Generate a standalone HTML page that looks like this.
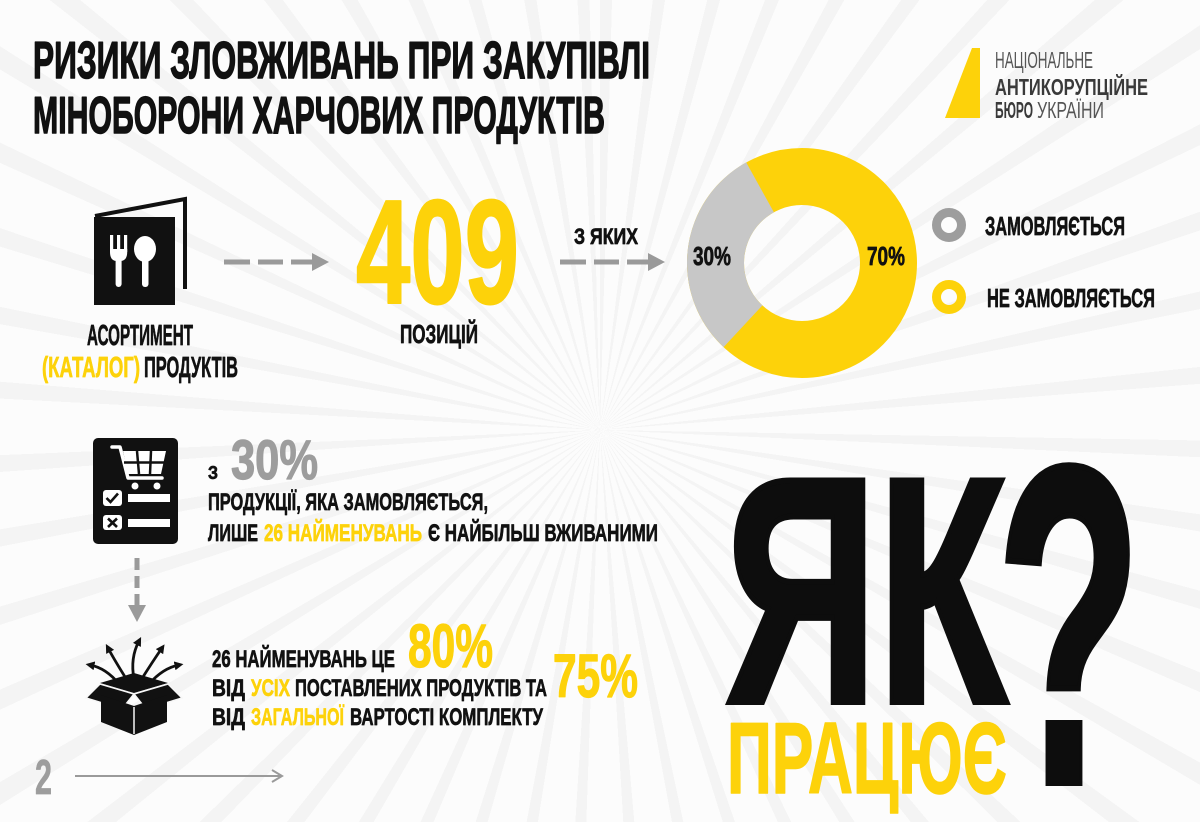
<!DOCTYPE html>
<html>
<head>
<meta charset="utf-8">
<style>
  html,body{margin:0;padding:0;overflow:hidden;}
  body{width:1200px;height:822px;overflow:hidden;position:relative;
    background:#fbfbfb;
    background-image:repeating-conic-gradient(from 0deg at 600px 430px,#f4f4f4 0deg 1.6deg,#fcfcfc 1.6deg 7deg);}
  svg{position:absolute;left:0;top:0;overflow:hidden;}
  text{font-family:"Liberation Sans","DejaVu Sans",sans-serif;font-weight:700;}
  .b{fill:#111;stroke:#111;stroke-width:0.7;stroke-linejoin:round;}
  .y{fill:#fdd20a;stroke:#fdd20a;stroke-width:0.7;stroke-linejoin:round;}
  .g{fill:#9d9d9d;stroke:#9d9d9d;stroke-width:0.7;stroke-linejoin:round;}
</style>
</head>
<body>
<svg width="1200" height="822" viewBox="0 0 1200 822">
  <defs>
    <marker id="ah" viewBox="0 0 10 10" refX="5" refY="5" markerWidth="3.2" markerHeight="3.2" orient="auto">
      <path d="M0 0 L10 5 L0 10 Z" fill="#111"/>
    </marker>
    <clipPath id="frame"><rect x="0" y="0" width="1200" height="822"/></clipPath>
  </defs>
<g clip-path="url(#frame)">
  <!-- Title -->
  <text class="b" x="33" y="78" font-size="52" textLength="617" lengthAdjust="spacingAndGlyphs" style="stroke-width:1.5">РИЗИКИ ЗЛОВЖИВАНЬ ПРИ ЗАКУПІВЛІ</text>
  <text class="b" x="33" y="133" font-size="52" textLength="572" lengthAdjust="spacingAndGlyphs" style="stroke-width:1.5">МІНОБОРОНИ ХАРЧОВИХ ПРОДУКТІВ</text>

  <!-- Logo -->
  <polygon points="972,48 980,48 980,118 945,118" fill="#fdd20a"/>
  <text x="995" y="68" font-size="23" textLength="98" lengthAdjust="spacingAndGlyphs" style="font-weight:400;fill:#555">НАЦІОНАЛЬНЕ</text>
  <text x="995" y="95" font-size="23" textLength="153" lengthAdjust="spacingAndGlyphs" style="fill:#3a3a3a">АНТИКОРУПЦІЙНЕ</text>
  <text x="995" y="118" font-size="23" textLength="38" lengthAdjust="spacingAndGlyphs" style="fill:#3a3a3a">БЮРО</text>
  <text x="1037" y="118" font-size="23" textLength="67" lengthAdjust="spacingAndGlyphs" style="font-weight:400;fill:#555">УКРАЇНИ</text>

  <!-- Menu icon -->
  <path d="M95 216 L185 199 L185 289" fill="none" stroke="#111" stroke-width="4"/>
  <rect x="94" y="217" width="81" height="88" fill="#111"/>
  <rect x="110" y="235" width="3.2" height="17" fill="#fff"/>
  <rect x="117" y="235" width="3.2" height="17" fill="#fff"/>
  <rect x="124" y="235" width="3.2" height="17" fill="#fff"/>
  <path d="M110 249 H127.2 V252 Q127.2 261 120 261 H117 Q110 261 110 252 Z" fill="#fff"/>
  <rect x="115.6" y="256" width="6" height="31" rx="3" fill="#fff"/>
  <ellipse cx="145" cy="249" rx="11" ry="13" fill="#fff"/>
  <rect x="142" y="254" width="6.5" height="33" rx="3" fill="#fff"/>

  <text class="b" x="87" y="345" font-size="29" textLength="106" lengthAdjust="spacingAndGlyphs">АСОРТИМЕНТ</text>
  <text class="y" x="42" y="377" font-size="29" textLength="98" lengthAdjust="spacingAndGlyphs">(КАТАЛОГ)</text>
  <text class="b" x="144" y="377" font-size="29" textLength="94" lengthAdjust="spacingAndGlyphs">ПРОДУКТІВ</text>

  <!-- Arrow 1 -->
  <g fill="#9a9a9a">
    <rect x="224" y="259.5" width="26" height="5"/>
    <rect x="258" y="259.5" width="25" height="5"/>
    <rect x="291" y="259.5" width="22" height="5"/>
    <polygon points="312,253 329,262 312,271"/>
  </g>

  <!-- 409 -->
  <text class="y" x="356" y="303" font-size="148" textLength="163" lengthAdjust="spacingAndGlyphs" style="stroke-width:2">409</text>
  <text class="b" x="400" y="343" font-size="26" textLength="78" lengthAdjust="spacingAndGlyphs">ПОЗИЦІЙ</text>

  <!-- Arrow 2 -->
  <text class="b" x="574" y="244" font-size="22" textLength="64" lengthAdjust="spacingAndGlyphs">З ЯКИХ</text>
  <g fill="#9a9a9a">
    <rect x="560" y="259.5" width="26" height="5"/>
    <rect x="594" y="259.5" width="25" height="5"/>
    <rect x="627" y="259.5" width="22" height="5"/>
    <polygon points="648,253 665,262 648,271"/>
  </g>

  <!-- Donut -->
  <g transform="translate(0,4)">
  <circle cx="802" cy="259" r="86.5" fill="none" stroke="#fdd20a" stroke-width="57"/>
  <path d="M746.2 158.4 A115 115 0 0 0 723.6 343.1 L762.4 301.4 A58 58 0 0 1 773.9 208.3 Z" fill="#c7c7c7"/>
  </g>
  <text class="b" x="693" y="265" font-size="26" textLength="38" lengthAdjust="spacingAndGlyphs">30%</text>
  <text class="b" x="867" y="265" font-size="26" textLength="38" lengthAdjust="spacingAndGlyphs">70%</text>

  <!-- Legend -->
  <circle cx="949" cy="225" r="12.5" fill="none" stroke="#9d9d9d" stroke-width="9"/>
  <circle cx="949" cy="297" r="12.5" fill="none" stroke="#fdd20a" stroke-width="9"/>
  <text class="b" x="985" y="235" font-size="26" textLength="140" lengthAdjust="spacingAndGlyphs">ЗАМОВЛЯЄТЬСЯ</text>
  <text class="b" x="987" y="307" font-size="26" textLength="168" lengthAdjust="spacingAndGlyphs">НЕ ЗАМОВЛЯЄТЬСЯ</text>

  <!-- Cart icon -->
  <rect x="93" y="438" width="85" height="106" rx="5" fill="#111"/>
  <path d="M112 447 H120 L128 478 H162" fill="none" stroke="#fff" stroke-width="3.5" stroke-linecap="round" stroke-linejoin="round"/>
  <polygon points="123,451 166,451 161,474 128,474" fill="#fff"/>
  <g stroke="#111" stroke-width="2.5">
    <line x1="137" y1="451" x2="139" y2="474"/>
    <line x1="151" y1="451" x2="150" y2="474"/>
    <line x1="124" y1="462.5" x2="165" y2="462.5"/>
  </g>
  <circle cx="135" cy="486" r="3.5" fill="#fff"/>
  <circle cx="157" cy="486" r="3.5" fill="#fff"/>
  <rect x="103" y="490" width="19" height="16" rx="3" fill="#fff"/>
  <rect x="128" y="494" width="42" height="8" fill="#fff"/>
  <rect x="103" y="515" width="19" height="15" rx="3" fill="#fff"/>
  <rect x="128" y="519" width="42" height="8" fill="#fff"/>
  <path d="M106.5 498 L110.5 502 L118 493.5" fill="none" stroke="#111" stroke-width="2.6"/>
  <path d="M108 518.5 L117 527 M117 518.5 L108 527" fill="none" stroke="#111" stroke-width="2.6"/>

  <!-- Down arrow -->
  <g fill="#9a9a9a">
    <rect x="134.5" y="558" width="5" height="12"/>
    <rect x="134.5" y="576" width="5" height="12"/>
    <rect x="134.5" y="594" width="5" height="12"/>
    <polygon points="128,605 146,605 137,622"/>
  </g>

  <!-- Box icon -->
  <g fill="none" stroke="#111" stroke-width="2.8" stroke-linecap="round" marker-end="url(#ah)">
    <path d="M119 684 Q106 668 90 665"/>
    <path d="M127 680 Q115 661 108 648"/>
    <path d="M134 679 Q130 658 139 641"/>
    <path d="M141 680 Q153 661 162 648"/>
    <path d="M149 684 Q163 668 179 665"/>
  </g>
  <polygon points="100,683 134,673 168,683 134,693" fill="#111"/>
  <polygon points="100,684 134,694 122,709 86,698" fill="#111" stroke="#f7f7f7" stroke-width="1.5"/>
  <polygon points="134,694 168,684 182,698 146,709" fill="#111" stroke="#f7f7f7" stroke-width="1.5"/>
  <polygon points="101,695 134,706 134,735 101,722" fill="#111"/>
  <polygon points="134,706 167,695 167,722 134,735" fill="#111"/>
  <line x1="134" y1="707" x2="134" y2="734" stroke="#f7f7f7" stroke-width="1.5"/>

  <!-- Text block 1 -->
  <text class="b" x="208" y="479" font-size="18.6" textLength="10" lengthAdjust="spacingAndGlyphs">З</text>
  <text class="g" x="231" y="479" font-size="56" textLength="87" lengthAdjust="spacingAndGlyphs" style="stroke-width:1.2">30%</text>
  <text class="b" x="208" y="510" font-size="24.5" textLength="280" lengthAdjust="spacingAndGlyphs">ПРОДУКЦІЇ, ЯКА ЗАМОВЛЯЄТЬСЯ,</text>
  <text class="b" x="208" y="541" font-size="24.5" textLength="50" lengthAdjust="spacingAndGlyphs">ЛИШЕ</text>
  <text class="y" x="264" y="541" font-size="24.5" textLength="158" lengthAdjust="spacingAndGlyphs">26 НАЙМЕНУВАНЬ</text>
  <text class="b" x="428" y="541" font-size="24.5" textLength="230" lengthAdjust="spacingAndGlyphs">Є НАЙБІЛЬШ ВЖИВАНИМИ</text>

  <!-- Text block 2 -->
  <text class="b" x="212" y="667" font-size="24.5" textLength="183" lengthAdjust="spacingAndGlyphs">26 НАЙМЕНУВАНЬ ЦЕ</text>
  <text class="y" x="408" y="667" font-size="61" textLength="85" lengthAdjust="spacingAndGlyphs" style="stroke-width:1.2">80%</text>
  <text class="b" x="212" y="696" font-size="24.5" textLength="33" lengthAdjust="spacingAndGlyphs">ВІД</text>
  <text class="y" x="251" y="696" font-size="24.5" textLength="39" lengthAdjust="spacingAndGlyphs">УСІХ</text>
  <text class="b" x="295" y="696" font-size="24.5" textLength="252" lengthAdjust="spacingAndGlyphs">ПОСТАВЛЕНИХ ПРОДУКТІВ ТА</text>
  <text class="y" x="553" y="697" font-size="61" textLength="85" lengthAdjust="spacingAndGlyphs" style="stroke-width:1.2">75%</text>
  <text class="b" x="212" y="725" font-size="24.5" textLength="33" lengthAdjust="spacingAndGlyphs">ВІД</text>
  <text class="y" x="251" y="725" font-size="24.5" textLength="93" lengthAdjust="spacingAndGlyphs">ЗАГАЛЬНОЇ</text>
  <text class="b" x="350" y="725" font-size="24.5" textLength="193" lengthAdjust="spacingAndGlyphs">ВАРТОСТІ КОМПЛЕКТУ</text>

  <!-- Page number -->
  <text class="g" x="35" y="794" font-size="49" textLength="17" lengthAdjust="spacingAndGlyphs">2</text>
  <line x1="75" y1="776" x2="281" y2="776" stroke="#9a9a9a" stroke-width="2"/>
  <polyline points="272,770 282,776 272,782" fill="none" stroke="#9a9a9a" stroke-width="2"/>

  <!-- ЯК? ПРАЦЮЄ -->
  <text x="725" y="702" font-size="322" textLength="282" lengthAdjust="spacingAndGlyphs" style="fill:#0d0d0d;stroke:#0d0d0d;stroke-width:6;stroke-linejoin:miter">ЯК</text>
  <text x="996" y="783" font-size="455" textLength="146" lengthAdjust="spacingAndGlyphs" style="fill:#0d0d0d;stroke:#0d0d0d;stroke-width:6;stroke-linejoin:miter">?</text>
  <text class="y" x="727" y="793" font-size="101" textLength="280" lengthAdjust="spacingAndGlyphs" style="stroke-width:1.5">ПРАЦЮЄ</text>
</g>
</svg>
</body>
</html>
